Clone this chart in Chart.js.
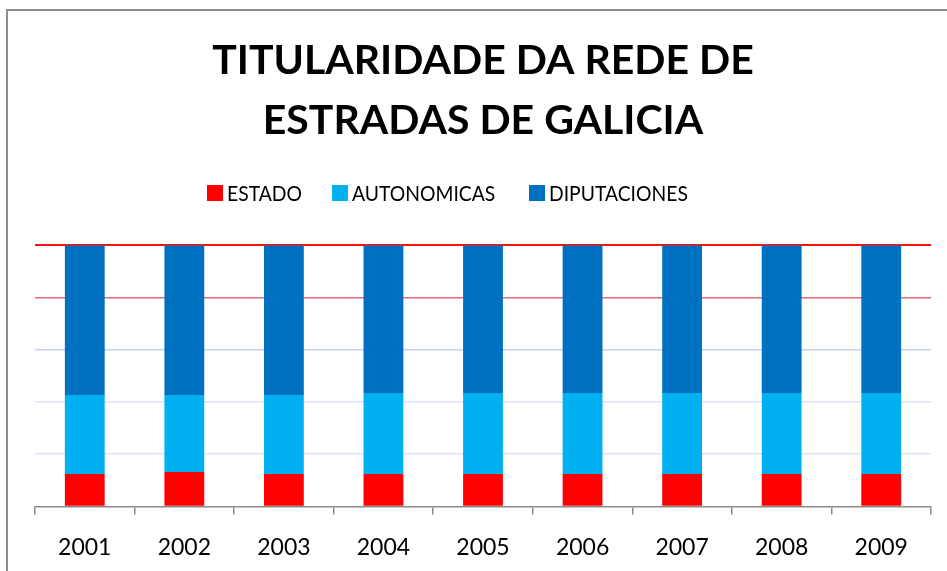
<!DOCTYPE html>
<html>
<head>
<meta charset="utf-8">
<script src="https://cdn.jsdelivr.net/npm/chart.js@4"></script>
<style>
  html, body { margin:0; padding:0; background:#fff; overflow:hidden; width:947px; height:571px; }
  #frame { position:absolute; left:6px; top:9px; width:1000px; height:600px; border-left:2px solid #8e8e8e; border-top:2px solid #8e8e8e; }
  #wrap { position:absolute; left:0; top:0; width:967px; height:600px; }
  #legend { position:absolute; top:183px; left:0; height:22px; font-family:Lato, sans-serif; font-size:21px; color:#000; }
  .item { position:absolute; top:0; white-space:nowrap; line-height:20px; }
  .box { position:absolute; top:2px; width:16px; height:16px; }
  .txt { position:absolute; top:0; transform:scaleX(0.92); transform-origin:0 50%; }
</style>
</head>
<body>
<div id="frame"></div>
<div id="wrap"><canvas id="c" width="967" height="600"></canvas></div>
<div id="legend"></div>
<script>
const titleLines = ["TITULARIDADE DA REDE DE", "ESTRADAS DE GALICIA"];
const categories = ["2001","2002","2003","2004","2005","2006","2007","2008","2009"];
const seriesNames = ["ESTADO","AUTONOMICAS","DIPUTACIONES"];
const estado      = [12.4, 13.2, 12.4, 12.4, 12.4, 12.4, 12.4, 12.4, 12.4];
const autonomicas = [30.3, 29.5, 30.3, 31.0, 31.0, 31.0, 31.0, 31.0, 31.0];
const diputaciones= [57.3, 57.3, 57.3, 56.6, 56.6, 56.6, 56.6, 56.6, 56.6];
const yTicks = [0, 20, 40, 60, 80, 100];
const seriesColors = ["#FF0000", "#00B0F0", "#0070C0"];
const legendBoxX = [207, 332, 529];

// legend (HTML)
const lg = document.getElementById('legend');
seriesNames.forEach((name, i) => {
  const it = document.createElement('div');
  it.className = 'item';
  it.style.left = legendBoxX[i] + 'px';
  it.innerHTML = '<span class="box" style="left:0;background:' + seriesColors[i] + '"></span><span class="txt" style="left:20px">' + name + '</span>';
  lg.appendChild(it);
});

const gridColor = (v) => v === 100 ? '#FF1010' : v === 80 ? '#E06C78' : v === 60 ? '#C8D0EC' : v === 0 ? 'rgba(0,0,0,0)' : '#DCE3F4';

new Chart(document.getElementById('c'), {
  type: 'bar',
  data: {
    labels: categories,
    datasets: [
      { label: seriesNames[0], data: estado, backgroundColor: seriesColors[0] },
      { label: seriesNames[1], data: autonomicas, backgroundColor: seriesColors[1] },
      { label: seriesNames[2], data: diputaciones, backgroundColor: seriesColors[2] }
    ]
  },
  options: {
    responsive: false,
    animation: false,
    layout: { padding: { left: 35, right: 36, top: 31, bottom: 20 } },
    datasets: { bar: { barPercentage: 0.4, categoryPercentage: 1.0 } },
    plugins: {
      legend: { display: false },
      tooltip: { enabled: false },
      title: {
        display: true,
        text: titleLines,
        color: '#000',
        font: { family: 'Lato', size: 41, weight: 'bold', lineHeight: 1.46 },
        padding: { top: 0, bottom: 94.5 }
      }
    },
    scales: {
      x: {
        stacked: true,
        border: { display: true, color: '#8a8a8a', width: 1.5 },
        grid: { offset: true, drawOnChartArea: false, drawTicks: true, tickLength: 8, color: '#8a8a8a', lineWidth: 1.5 },
        ticks: { color: '#000', font: { family: 'Lato', size: 23 }, padding: 19 }
      },
      y: {
        stacked: true,
        min: 0, max: 100,
        afterBuildTicks: (s) => { s.ticks = yTicks.map(v => ({ value: v })); },
        border: { display: false },
        ticks: { display: false },
        grid: { drawTicks: false, color: (ctx) => gridColor(ctx.tick.value), lineWidth: (ctx) => ctx.tick.value === 100 ? 2 : 1.5 }
      }
    }
  }
});
</script>
</body>
</html>
